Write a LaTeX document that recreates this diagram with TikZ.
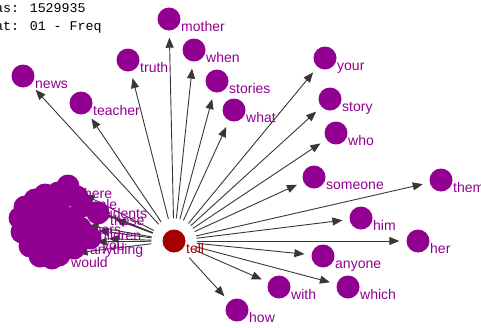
\documentclass[tikz,border=0pt]{standalone}
\usepackage{fontspec}
\setmainfont{Liberation Sans}
\newfontfamily\monofont{Liberation Mono}
\usepackage{tikz}
\usetikzlibrary{arrows.meta, positioning, backgrounds}
\definecolor{wordpurple}{RGB}{145,0,145}
\definecolor{tellred}{RGB}{165,0,0}
\definecolor{linkgray}{RGB}{55,55,55}

\begin{document}
\begin{tikzpicture}[
        x=1pt, y=-1pt,
        % the words around the middle one
        word/.style={circle, fill=wordpurple, minimum size=23pt, inner sep=0pt},
        wordtext/.style={anchor=base west, inner sep=0pt, text=wordpurple,
            font=\fontsize{14}{14}\selectfont},
        % counts in the corner
        info/.style={anchor=base west, inner sep=0pt, font=\monofont\fontsize{13.3}{14}\selectfont},
        % arrows out of the middle word
        link/.style={draw=linkgray, line width=0.9pt,
            -{Triangle[length=10pt,width=8pt]}, shorten <=11pt, shorten >=7pt}
    ]
    \clip (0,0) rectangle (481,327);

    \node[info] (tokens) at (-5,12) {as: 1529935};
    \node[info] (format) at (-5,30) {at: 01 - Freq};

    % the middle word
    \node[word, fill=tellred] (tell) at (174,241) {};
    \node[wordtext, text=tellred] (tell-t) at (186,253) {tell};

    % words that stand apart
    \foreach \n/\x/\y in {mother/169/19, when/194/50, truth/128/60, news/23/76,
            teacher/81/103, stories/217/81, what/234/110, your/325/58,
            story/330/99, who/336/133, someone/314/177, them/441/180,
            him/361/218, her/418/241, anyone/323/256, with/279/287,
            which/348/287, how/237/310} {
        \node[word] (\n) at (\x,\y) {};
        \node[wordtext] (\n-t) at (\x+12,\y+12) {\n};
    }

    % the heap of words on the left, their texts hidden under one another
    \node[word] (there) at (68,186) {};
    \node[wordtext] (there-t) at (80,198) {there};
    \foreach \x/\y [count=\i] in {45/195, 58/193, 35/200, 25/207, 40/208,
            55/206, 77/197, 20/218, 33/220, 48/220, 63/216, 22/232, 36/234,
            50/232, 65/234, 30/246, 45/246, 60/244, 74/248, 40/256, 52/258}
        \node[word] (heap\i) at (\x,\y) {};
    \foreach \n/\x/\y in {people/63/197, others/70/222,
            students/82/206, children/80/228, anything/78/242,
            these/98/213, you/90/238, would/59/255} {
        \node[word] (\n) at (\x,\y) {};
        \node[wordtext] (\n-t) at (\x+12,\y+12) {\n};
    }

    \begin{scope}[on background layer]
        \foreach \n in {mother, when, truth, news, teacher, stories, what,
                your, story, who, someone, them, him, her, anyone, with,
                which, how, there, people, others, students, children,
                anything, these, you, would}
            \draw[link] (tell) -- (\n);
    \end{scope}
\end{tikzpicture}
\end{document}
